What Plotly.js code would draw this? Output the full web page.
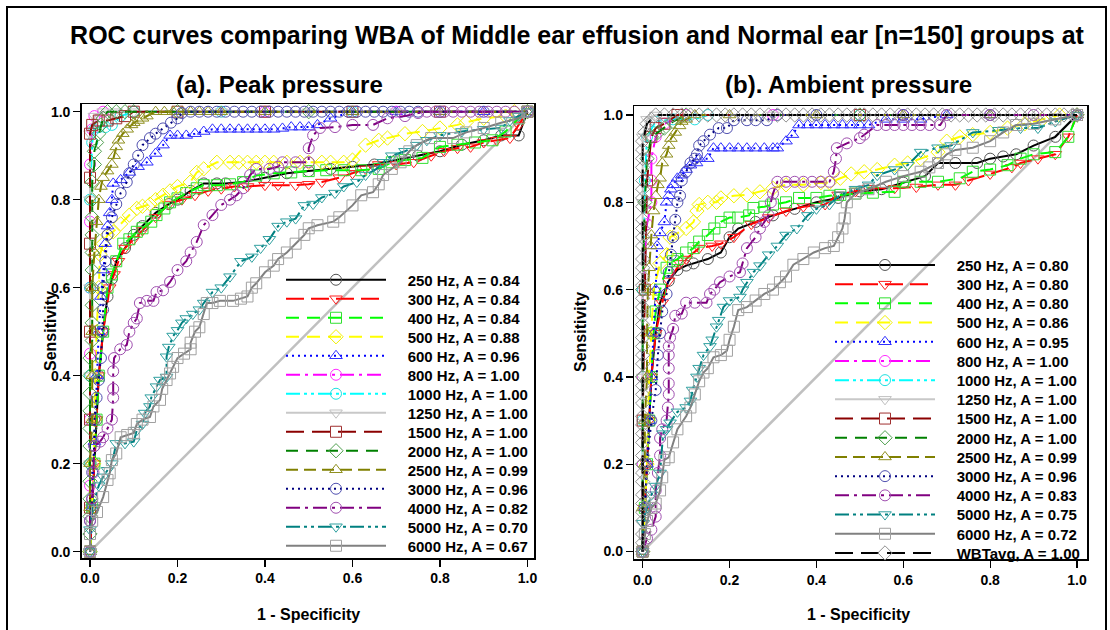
<!DOCTYPE html>
<html><head><meta charset="utf-8">
<script src="https://cdn.plot.ly/plotly-3.0.1.min.js"></script>
<style>html,body{margin:0;padding:0;background:#fff}#chart{width:1110px;height:630px}</style>
</head><body><div id="chart"></div>
<script>
// ---------- DATA ----------
const freqLabels = ['250 Hz','300 Hz','400 Hz','500 Hz','600 Hz','800 Hz','1000 Hz','1250 Hz','1500 Hz','2000 Hz','2500 Hz','3000 Hz','4000 Hz','5000 Hz','6000 Hz'];
const ambLabels = freqLabels.concat(['WBTavg']);
const peakAUC = ['0.84','0.84','0.84','0.88','0.96','1.00','1.00','1.00','1.00','1.00','0.99','0.96','0.82','0.70','0.67'];
const ambAUC  = ['0.80','0.80','0.80','0.86','0.95','1.00','1.00','1.00','1.00','1.00','0.99','0.96','0.83','0.75','0.72','1.00'];
const tickValues = [0,0.2,0.4,0.6,0.8,1.0];
const tickLabels = ['0.0','0.2','0.4','0.6','0.8','1.0'];
const diagonal = [0,1];

// (a) Peak pressure: [1-specificity, sensitivity]
const peak250 = [[0,0],[0.005,0.1],[0.01,0.2],[0.015,0.3],[0.02,0.4],[0.03,0.5],[0.04,0.58],[0.05,0.62],[0.06,0.66],[0.08,0.69],[0.1,0.72],[0.12,0.74],[0.15,0.77],[0.18,0.79],[0.2,0.8],[0.23,0.82],[0.26,0.837],[0.29,0.837],[0.31,0.837],[0.35,0.84],[0.4,0.85],[0.45,0.86],[0.5,0.865],[0.55,0.87],[0.6,0.875],[0.65,0.88],[0.7,0.89],[0.75,0.9],[0.8,0.91],[0.85,0.925],[0.9,0.935],[0.94,0.946],[0.98,0.946],[1,1]];
const peak300 = [[0,0],[0.005,0.1],[0.01,0.2],[0.015,0.3],[0.02,0.4],[0.03,0.5],[0.045,0.6],[0.055,0.63],[0.065,0.66],[0.08,0.69],[0.1,0.71],[0.12,0.73],[0.15,0.76],[0.18,0.79],[0.21,0.8],[0.24,0.81],[0.27,0.82],[0.3,0.825],[0.33,0.83],[0.36,0.83],[0.4,0.833],[0.43,0.833],[0.47,0.833],[0.5,0.835],[0.53,0.84],[0.57,0.85],[0.6,0.86],[0.63,0.87],[0.66,0.88],[0.7,0.88],[0.74,0.885],[0.78,0.9],[0.81,0.91],[0.84,0.917],[0.87,0.92],[0.9,0.93],[0.93,0.935],[0.96,0.94],[0.98,0.97],[1,1]];
const peak400 = [[0,0],[0.005,0.1],[0.01,0.2],[0.015,0.3],[0.02,0.4],[0.03,0.5],[0.04,0.6],[0.05,0.63],[0.06,0.66],[0.076,0.7],[0.09,0.71],[0.107,0.727],[0.12,0.735],[0.14,0.75],[0.152,0.765],[0.17,0.78],[0.183,0.794],[0.2,0.803],[0.22,0.815],[0.244,0.826],[0.26,0.833],[0.29,0.833],[0.32,0.835],[0.35,0.84],[0.38,0.855],[0.42,0.86],[0.46,0.862],[0.5,0.865],[0.54,0.867],[0.58,0.867],[0.62,0.867],[0.66,0.87],[0.69,0.885],[0.72,0.89],[0.76,0.895],[0.8,0.92],[0.84,0.925],[0.88,0.93],[0.92,0.935],[0.95,0.955],[0.98,0.985],[1,1]];
const peak500 = [[0,0],[0.005,0.1],[0.008,0.2],[0.01,0.3],[0.012,0.4],[0.015,0.5],[0.02,0.6],[0.023,0.675],[0.03,0.7],[0.04,0.72],[0.053,0.727],[0.07,0.745],[0.09,0.765],[0.107,0.78],[0.12,0.785],[0.137,0.79],[0.15,0.8],[0.167,0.81],[0.183,0.82],[0.2,0.83],[0.229,0.84],[0.244,0.862],[0.26,0.87],[0.29,0.885],[0.32,0.885],[0.34,0.885],[0.36,0.885],[0.38,0.885],[0.4,0.885],[0.42,0.885],[0.45,0.885],[0.48,0.885],[0.5,0.885],[0.53,0.885],[0.55,0.885],[0.58,0.885],[0.6,0.89],[0.63,0.924],[0.66,0.935],[0.68,0.94],[0.72,0.95],[0.76,0.955],[0.8,0.963],[0.84,0.97],[0.86,0.976],[0.9,0.985],[0.95,0.99],[0.97,1],[1,1]];
const peak600 = [[0,0],[0.005,0.1],[0.01,0.25],[0.015,0.4],[0.02,0.5],[0.025,0.58],[0.03,0.64],[0.035,0.7],[0.04,0.74],[0.045,0.77],[0.05,0.8],[0.053,0.837],[0.07,0.845],[0.09,0.862],[0.11,0.875],[0.13,0.885],[0.15,0.905],[0.167,0.924],[0.183,0.946],[0.2,0.946],[0.22,0.946],[0.24,0.95],[0.26,0.955],[0.28,0.96],[0.3,0.96],[0.32,0.96],[0.34,0.96],[0.36,0.96],[0.38,0.96],[0.4,0.96],[0.42,0.96],[0.44,0.962],[0.46,0.965],[0.48,0.965],[0.5,0.965],[0.52,0.97],[0.55,0.985],[0.6,1],[0.7,1],[0.8,1],[0.9,1],[1,1]];
const peak800 = [[0,0],[0,0.15],[0,0.3],[0,0.45],[0,0.6],[0,0.75],[0,0.88],[0.005,0.96],[0.01,0.99],[0.03,1],[0.1,1],[0.4,1],[0.7,1],[1,1]];
const peak1000 = [[0,0],[0,0.2],[0,0.4],[0,0.6],[0,0.8],[0.005,0.93],[0.01,0.96],[0.02,0.965],[0.035,0.965],[0.05,0.97],[0.07,0.99],[0.1,1],[0.3,1],[0.6,1],[1,1]];
const peak1250 = [[0,0],[0,0.2],[0,0.4],[0,0.6],[0,0.8],[0,0.95],[0.01,0.99],[0.03,1],[0.06,1],[0.1,1],[0.3,1],[0.5,1],[0.7,1],[1,1]];
const peak1500 = [[0,0],[0,0.1],[0,0.3],[0,0.5],[0,0.7],[0,0.85],[0,0.95],[0.005,0.97],[0.02,0.98],[0.04,0.98],[0.06,0.985],[0.08,0.99],[0.1,1],[0.2,1],[0.4,1],[0.6,1],[0.8,1],[1,1]];
const peak2000 = [[0,0],[0,0.04],[0,0.08],[0,0.12],[0,0.16],[0,0.2],[0,0.24],[0,0.28],[0,0.32],[0,0.36],[0,0.4],[0,0.44],[0.005,0.48],[0.005,0.52],[0.005,0.56],[0.005,0.6],[0.005,0.64],[0.005,0.68],[0.005,0.72],[0.005,0.76],[0.005,0.8],[0.005,0.84],[0.01,0.88],[0.01,0.91],[0.015,0.93],[0.02,0.95],[0.025,0.97],[0.03,0.985],[0.04,1],[0.06,1],[0.08,1],[0.1,1],[0.2,1],[0.5,1],[1,1]];
const peak2500 = [[0,0],[0,0.1],[0,0.2],[0.005,0.3],[0.005,0.4],[0.005,0.5],[0.005,0.6],[0.01,0.68],[0.015,0.75],[0.02,0.8],[0.025,0.83],[0.03,0.85],[0.04,0.865],[0.05,0.88],[0.055,0.9],[0.06,0.92],[0.065,0.935],[0.075,0.95],[0.085,0.96],[0.095,0.97],[0.1,0.975],[0.11,0.98],[0.12,0.985],[0.13,0.99],[0.15,1],[0.17,1],[0.19,1],[0.21,1],[0.23,1],[0.25,1],[0.27,1],[0.3,1],[0.4,1],[0.6,1],[0.8,1],[1,1]];
const peak3000 = [[0,0],[0,0.07],[0.005,0.12],[0.005,0.18],[0.01,0.24],[0.01,0.3],[0.015,0.35],[0.02,0.39],[0.025,0.44],[0.028,0.5],[0.03,0.55],[0.03,0.6],[0.035,0.66],[0.04,0.72],[0.05,0.76],[0.06,0.79],[0.07,0.815],[0.084,0.84],[0.09,0.86],[0.1,0.88],[0.11,0.9],[0.12,0.924],[0.137,0.94],[0.15,0.95],[0.167,0.962],[0.185,0.975],[0.2,0.985],[0.21,0.997],[0.23,1],[0.25,1],[0.27,1],[0.29,1],[0.31,1],[0.33,1],[0.35,1],[0.37,1],[0.39,1],[0.41,1],[0.43,1],[0.45,1],[0.47,1],[0.49,1],[0.51,1],[0.53,1],[0.55,1],[0.57,1],[0.59,1],[0.61,1],[0.63,1],[0.65,1],[0.67,1],[0.69,1],[0.71,1],[0.73,1],[0.75,1],[0.8,1],[0.9,1],[1,1]];
const peak4000 = [[0,0],[0,0.07],[0.005,0.12],[0.008,0.18],[0.01,0.24],[0.023,0.25],[0.03,0.26],[0.04,0.28],[0.05,0.3],[0.053,0.35],[0.053,0.37],[0.053,0.41],[0.055,0.44],[0.069,0.46],[0.084,0.47],[0.09,0.5],[0.1,0.52],[0.107,0.53],[0.114,0.565],[0.13,0.57],[0.145,0.57],[0.152,0.59],[0.167,0.594],[0.183,0.613],[0.2,0.64],[0.22,0.66],[0.23,0.68],[0.244,0.704],[0.26,0.742],[0.28,0.765],[0.3,0.788],[0.32,0.8],[0.335,0.81],[0.35,0.826],[0.366,0.856],[0.38,0.87],[0.41,0.87],[0.43,0.875],[0.44,0.885],[0.47,0.885],[0.5,0.885],[0.5,0.917],[0.51,0.946],[0.526,0.963],[0.56,0.965],[0.6,0.97],[0.647,0.97],[0.68,0.985],[0.72,0.99],[0.75,0.997],[0.77,1],[0.79,1],[0.81,1],[0.83,1],[0.85,1],[0.87,1],[0.89,1],[0.91,1],[0.93,1],[0.95,1],[0.97,1],[1,1]];
const peak5000 = [[0,0],[0,0.05],[0.005,0.1],[0.02,0.15],[0.03,0.17],[0.04,0.185],[0.05,0.2],[0.06,0.246],[0.08,0.246],[0.1,0.25],[0.107,0.276],[0.12,0.29],[0.125,0.315],[0.137,0.33],[0.14,0.35],[0.152,0.375],[0.16,0.39],[0.175,0.397],[0.175,0.443],[0.18,0.465],[0.19,0.49],[0.2,0.503],[0.21,0.52],[0.22,0.53],[0.235,0.54],[0.25,0.55],[0.26,0.565],[0.28,0.59],[0.3,0.6],[0.32,0.625],[0.345,0.66],[0.37,0.67],[0.39,0.69],[0.41,0.71],[0.43,0.74],[0.45,0.75],[0.47,0.757],[0.49,0.787],[0.51,0.79],[0.53,0.805],[0.56,0.815],[0.58,0.83],[0.61,0.84],[0.63,0.856],[0.655,0.87],[0.67,0.885],[0.69,0.9],[0.72,0.91],[0.747,0.924],[0.77,0.935],[0.8,0.946],[0.85,0.955],[0.9,0.96],[0.94,0.963],[0.96,0.98],[0.98,0.99],[1,1]];
const peak6000 = [[0,0],[0,0.04],[0.005,0.07],[0.016,0.09],[0.03,0.124],[0.04,0.163],[0.045,0.178],[0.05,0.208],[0.06,0.223],[0.07,0.26],[0.085,0.265],[0.1,0.27],[0.107,0.29],[0.12,0.3],[0.137,0.306],[0.145,0.33],[0.16,0.345],[0.165,0.37],[0.175,0.39],[0.183,0.405],[0.19,0.42],[0.2,0.44],[0.215,0.45],[0.23,0.46],[0.23,0.475],[0.24,0.5],[0.25,0.51],[0.26,0.54],[0.267,0.565],[0.28,0.565],[0.297,0.57],[0.327,0.57],[0.345,0.575],[0.36,0.58],[0.37,0.6],[0.38,0.61],[0.4,0.635],[0.42,0.65],[0.43,0.665],[0.45,0.68],[0.47,0.7],[0.49,0.72],[0.5,0.735],[0.52,0.742],[0.556,0.75],[0.57,0.76],[0.6,0.787],[0.62,0.81],[0.647,0.817],[0.66,0.835],[0.67,0.856],[0.69,0.87],[0.71,0.885],[0.73,0.91],[0.747,0.924],[0.78,0.94],[0.83,0.94],[0.86,0.953],[0.9,0.963],[0.94,0.975],[0.98,0.985],[1,1]];

// (b) Ambient pressure
const amb250 = [[0,0],[0.005,0.1],[0.01,0.2],[0.015,0.3],[0.02,0.4],[0.03,0.5],[0.04,0.57],[0.06,0.62],[0.08,0.645],[0.1,0.655],[0.117,0.66],[0.15,0.67],[0.18,0.685],[0.2,0.72],[0.22,0.74],[0.26,0.755],[0.3,0.77],[0.35,0.785],[0.4,0.8],[0.45,0.81],[0.5,0.825],[0.55,0.83],[0.6,0.845],[0.65,0.86],[0.68,0.89],[0.72,0.89],[0.77,0.89],[0.8,0.9],[0.83,0.905],[0.86,0.91],[0.9,0.93],[0.95,0.95],[1,1]];
const amb300 = [[0,0],[0.005,0.1],[0.01,0.2],[0.015,0.3],[0.02,0.4],[0.03,0.5],[0.045,0.57],[0.06,0.62],[0.086,0.66],[0.1,0.67],[0.13,0.695],[0.16,0.7],[0.18,0.705],[0.21,0.72],[0.25,0.75],[0.29,0.765],[0.33,0.78],[0.37,0.79],[0.42,0.795],[0.45,0.817],[0.49,0.825],[0.52,0.832],[0.58,0.832],[0.63,0.835],[0.68,0.84],[0.72,0.84],[0.75,0.85],[0.8,0.865],[0.85,0.88],[0.87,0.89],[0.91,0.9],[0.95,0.91],[0.98,0.95],[1,1]];
const amb400 = [[0,0],[0.005,0.1],[0.01,0.2],[0.015,0.3],[0.02,0.4],[0.025,0.5],[0.03,0.55],[0.04,0.6],[0.055,0.65],[0.07,0.665],[0.08,0.67],[0.1,0.685],[0.117,0.695],[0.13,0.71],[0.15,0.725],[0.165,0.74],[0.18,0.755],[0.2,0.765],[0.22,0.765],[0.245,0.77],[0.255,0.787],[0.28,0.79],[0.3,0.795],[0.33,0.8],[0.36,0.81],[0.4,0.81],[0.43,0.815],[0.455,0.817],[0.49,0.82],[0.53,0.822],[0.58,0.824],[0.6,0.847],[0.64,0.847],[0.68,0.847],[0.73,0.855],[0.76,0.87],[0.8,0.875],[0.84,0.885],[0.87,0.9],[0.9,0.91],[0.95,0.915],[0.98,0.95],[1,1]];
const amb500 = [[0,0],[0.005,0.1],[0.01,0.2],[0.012,0.3],[0.015,0.4],[0.02,0.5],[0.025,0.6],[0.04,0.66],[0.055,0.68],[0.063,0.72],[0.08,0.73],[0.1,0.74],[0.117,0.755],[0.125,0.78],[0.13,0.795],[0.15,0.8],[0.17,0.8],[0.18,0.81],[0.21,0.815],[0.24,0.817],[0.27,0.824],[0.3,0.832],[0.33,0.84],[0.37,0.84],[0.41,0.845],[0.43,0.845],[0.455,0.855],[0.48,0.865],[0.51,0.87],[0.54,0.875],[0.58,0.885],[0.61,0.89],[0.64,0.9],[0.68,0.915],[0.7,0.94],[0.73,0.95],[0.76,0.955],[0.8,0.96],[0.84,0.97],[0.88,0.98],[0.92,0.99],[0.96,1],[1,1]];
const amb600 = [[0,0],[0.005,0.1],[0.01,0.2],[0.015,0.3],[0.02,0.4],[0.025,0.5],[0.03,0.6],[0.033,0.7],[0.04,0.73],[0.05,0.755],[0.055,0.8],[0.06,0.815],[0.065,0.83],[0.07,0.84],[0.08,0.855],[0.09,0.862],[0.1,0.875],[0.11,0.885],[0.124,0.89],[0.13,0.9],[0.15,0.9],[0.163,0.924],[0.18,0.924],[0.2,0.924],[0.22,0.924],[0.24,0.924],[0.26,0.924],[0.28,0.924],[0.3,0.924],[0.31,0.924],[0.33,0.94],[0.345,0.955],[0.36,0.977],[0.38,0.977],[0.4,0.977],[0.42,0.977],[0.44,0.977],[0.46,0.977],[0.48,0.977],[0.5,0.977],[0.52,0.977],[0.56,0.99],[0.6,0.99],[0.64,0.99],[0.7,1],[0.8,1],[1,1]];
const amb800 = [[0,0],[0,0.2],[0,0.4],[0,0.6],[0.01,0.75],[0.02,0.8],[0.02,0.85],[0.02,0.9],[0.03,0.95],[0.05,0.98],[0.1,1],[0.3,1],[0.6,1],[1,1]];
const amb1000 = [[0,0],[0,0.3],[0,0.6],[0.005,0.85],[0.01,0.95],[0.03,0.985],[0.07,0.99],[0.12,0.99],[0.15,1],[0.5,1],[1,1]];
const amb1250 = [[0,0],[0,0.4],[0,0.8],[0,0.95],[0.01,0.99],[0.03,1],[0.3,1],[1,1]];
const amb1500 = [[0,0],[0,0.3],[0.005,0.6],[0.01,0.85],[0.02,0.95],[0.03,0.97],[0.05,0.98],[0.08,1],[0.5,1],[1,1]];
const amb2000 = [[0,0],[0,0.2],[0,0.4],[0,0.6],[0.005,0.8],[0.01,0.9],[0.02,0.95],[0.035,0.96],[0.05,0.97],[0.07,0.985],[0.1,1],[0.5,1],[1,1]];
const amb2500 = [[0,0],[0,0.1],[0.005,0.2],[0.005,0.3],[0.01,0.4],[0.01,0.5],[0.012,0.6],[0.015,0.65],[0.018,0.7],[0.02,0.725],[0.025,0.78],[0.03,0.815],[0.035,0.84],[0.04,0.855],[0.045,0.89],[0.055,0.91],[0.06,0.93],[0.065,0.946],[0.075,0.96],[0.085,0.975],[0.09,0.985],[0.1,0.99],[0.12,1],[0.2,1],[0.4,1],[0.6,1],[0.8,1],[1,1]];
const amb3000 = [[0,0],[0.005,0.1],[0.01,0.2],[0.02,0.3],[0.03,0.37],[0.035,0.45],[0.04,0.5],[0.045,0.55],[0.055,0.59],[0.06,0.64],[0.065,0.68],[0.07,0.72],[0.075,0.76],[0.08,0.8],[0.086,0.815],[0.09,0.85],[0.1,0.87],[0.11,0.89],[0.12,0.9],[0.125,0.91],[0.13,0.93],[0.14,0.94],[0.155,0.955],[0.175,0.97],[0.194,0.97],[0.21,0.988],[0.24,0.988],[0.26,0.988],[0.286,0.988],[0.31,1],[0.4,1],[0.6,1],[0.8,1],[1,1]];
const amb4000 = [[0,0],[0.01,0.03],[0.02,0.05],[0.03,0.08],[0.03,0.1],[0.03,0.14],[0.035,0.18],[0.04,0.22],[0.04,0.26],[0.045,0.28],[0.055,0.3],[0.058,0.33],[0.06,0.36],[0.06,0.385],[0.06,0.42],[0.06,0.45],[0.06,0.47],[0.063,0.49],[0.07,0.51],[0.075,0.54],[0.09,0.545],[0.1,0.57],[0.12,0.57],[0.147,0.57],[0.155,0.59],[0.165,0.6],[0.178,0.617],[0.2,0.63],[0.224,0.64],[0.23,0.66],[0.24,0.695],[0.26,0.72],[0.27,0.74],[0.28,0.755],[0.29,0.77],[0.295,0.8],[0.3,0.82],[0.31,0.847],[0.33,0.847],[0.35,0.847],[0.37,0.847],[0.39,0.847],[0.41,0.847],[0.43,0.847],[0.44,0.87],[0.445,0.9],[0.447,0.924],[0.47,0.935],[0.5,0.947],[0.51,0.955],[0.54,0.977],[0.56,0.977],[0.58,0.977],[0.6,0.977],[0.62,0.977],[0.64,0.977],[0.66,0.977],[0.685,0.977],[0.7,1],[0.8,1],[0.9,1],[1,1]];
const amb5000 = [[0,0],[0,0.065],[0.01,0.1],[0.02,0.13],[0.03,0.15],[0.04,0.18],[0.047,0.27],[0.055,0.28],[0.063,0.295],[0.08,0.32],[0.1,0.33],[0.11,0.345],[0.115,0.37],[0.125,0.4],[0.13,0.42],[0.14,0.45],[0.155,0.47],[0.16,0.485],[0.17,0.515],[0.175,0.53],[0.186,0.56],[0.2,0.575],[0.224,0.583],[0.23,0.6],[0.24,0.617],[0.255,0.64],[0.27,0.655],[0.29,0.68],[0.31,0.7],[0.33,0.725],[0.355,0.74],[0.38,0.77],[0.4,0.785],[0.43,0.795],[0.455,0.817],[0.49,0.83],[0.52,0.84],[0.54,0.862],[0.58,0.875],[0.61,0.885],[0.64,0.915],[0.68,0.925],[0.71,0.93],[0.76,0.96],[0.82,0.965],[0.87,0.97],[0.91,0.97],[0.95,0.985],[1,1]];
const amb6000 = [[0,0],[0.005,0.04],[0.01,0.07],[0.02,0.1],[0.03,0.11],[0.04,0.14],[0.045,0.17],[0.05,0.21],[0.06,0.216],[0.07,0.25],[0.08,0.28],[0.1,0.31],[0.11,0.33],[0.12,0.36],[0.13,0.39],[0.14,0.41],[0.15,0.42],[0.163,0.445],[0.18,0.45],[0.194,0.46],[0.2,0.485],[0.21,0.515],[0.22,0.553],[0.24,0.56],[0.26,0.575],[0.28,0.59],[0.3,0.6],[0.316,0.617],[0.33,0.63],[0.347,0.657],[0.37,0.67],[0.394,0.685],[0.42,0.695],[0.44,0.7],[0.45,0.72],[0.46,0.74],[0.465,0.763],[0.47,0.8],[0.49,0.82],[0.52,0.83],[0.56,0.847],[0.6,0.86],[0.64,0.87],[0.66,0.88],[0.68,0.89],[0.7,0.91],[0.72,0.92],[0.76,0.925],[0.8,0.94],[0.83,0.96],[0.86,0.977],[0.9,0.98],[0.95,0.99],[1,1]];
const ambWBT = [[0,0],[0,0.02],[0,0.04],[0,0.07],[0,0.09],[0,0.11],[0,0.13],[0,0.16],[0,0.18],[0,0.2],[0,0.22],[0,0.25],[0,0.27],[0,0.29],[0,0.31],[0,0.34],[0,0.36],[0,0.38],[0,0.4],[0,0.43],[0,0.45],[0,0.47],[0,0.49],[0,0.52],[0,0.54],[0,0.56],[0,0.58],[0,0.61],[0,0.63],[0,0.65],[0,0.67],[0,0.7],[0,0.72],[0,0.74],[0,0.76],[0,0.79],[0,0.81],[0,0.83],[0,0.85],[0,0.88],[0,0.9],[0,0.92],[0,0.94],[0.005,0.96],[0.01,0.98],[0.02,0.99],[0.03,1],[0.05,1],[0.07,1],[0.09,1],[0.11,1],[0.13,1],[0.15,1],[0.17,1],[0.19,1],[0.21,1],[0.23,1],[0.25,1],[0.27,1],[0.29,1],[0.31,1],[0.33,1],[0.35,1],[0.37,1],[0.39,1],[0.41,1],[0.43,1],[0.45,1],[0.47,1],[0.49,1],[0.51,1],[0.53,1],[0.55,1],[0.57,1],[0.59,1],[0.61,1],[0.63,1],[0.65,1],[0.67,1],[0.69,1],[0.71,1],[0.73,1],[0.75,1],[0.77,1],[0.79,1],[0.81,1],[0.83,1],[0.85,1],[0.87,1],[0.89,1],[0.91,1],[0.93,1],[0.95,1],[0.97,1],[0.99,1],[1,1]];

const peakCurves = [peak250,peak300,peak400,peak500,peak600,peak800,peak1000,peak1250,peak1500,peak2000,peak2500,peak3000,peak4000,peak5000,peak6000];
const ambCurves = [amb250,amb300,amb400,amb500,amb600,amb800,amb1000,amb1250,amb1500,amb2000,amb2500,amb3000,amb4000,amb5000,amb6000,ambWBT];

// ---------- STYLES ----------
const lineColors = ['#000000','#ff0000','#00ff00','#ffff00','#0000ff','#ff00ff','#00ffff','#c8c8c8','#8b0000','#008000','#808000','#000080','#800080','#008080','#808080','#000000'];
const markerColors = ['#555555','#ff2020','#30e030','#f0f000','#3030ff','#ff30ff','#20e0e0','#c0c0c0','#a03030','#50a050','#909020','#5050b0','#a050b0','#30a0a0','#a0a0a0','#909090'];
const dashes = ['solid','18px,7px','13px,8px','13px,8px','2px,4px','14px,5px,3px,5px','14px,4px,3px,4px,3px,4px','solid','18px,8px','12px,8px','12px,6px','2px,4px','14px,5px,3px,5px','14px,4px,3px,4px,3px,4px','solid','18px,8px'];
const symbols = ['circle-open','triangle-down-open','square-open','diamond-open','triangle-up-open','circle-open','circle-open','triangle-down-open','square-open','diamond-open','triangle-up-open','circle-open','circle-open','triangle-down-open','square-open','diamond-open'];

const FONT = 'Arial, "Liberation Sans", sans-serif';
const W = 1110, H = 630;
const traces = [];
const bold = (size) => ({family: FONT, size: size, weight: 'bold', color: '#000'});
const layout = {
  width: W, height: H, margin: {l:0,r:0,t:0,b:0},
  paper_bgcolor: '#fff', plot_bgcolor: '#fff',
  font: {family: FONT, color: '#000'},
  title: {text: 'ROC curves comparing WBA of Middle ear effusion and Normal ear [n=150] groups at',
          x: 577/W, xanchor: 'center', y: 1-35/H, yanchor: 'middle', font: bold(25)},
  annotations: [
    {text:'(a). Peak pressure', xref:'paper', yref:'paper', x:279/W, y:1-85/H, xanchor:'center', yanchor:'middle', showarrow:false, font:bold(24)},
    {text:'(b). Ambient pressure', xref:'paper', yref:'paper', x:848/W, y:1-85/H, xanchor:'center', yanchor:'middle', showarrow:false, font:bold(24)},
    {text:'Sensitivity', xref:'paper', yref:'paper', x:50/W, y:1-331/H, xanchor:'center', yanchor:'middle', textangle:-90, showarrow:false, font:bold(16)},
    {text:'Sensitivity', xref:'paper', yref:'paper', x:580/W, y:1-332/H, xanchor:'center', yanchor:'middle', textangle:-90, showarrow:false, font:bold(16)},
    {text:'1 - Specificity', xref:'paper', yref:'paper', x:308/W, y:1-614/H, xanchor:'center', yanchor:'middle', showarrow:false, font:bold(16)},
    {text:'1 - Specificity', xref:'paper', yref:'paper', x:858/W, y:1-614/H, xanchor:'center', yanchor:'middle', showarrow:false, font:bold(16)}
  ],
  shapes: [{type:'rect', xref:'paper', yref:'paper', x0:7/W, x1:1106/W, y0:1-7/H, y1:-0.05, line:{color:'#000', width:2}}],
  showlegend: true
};
function axis(domain, range){
  return {domain, range, showline:true, mirror:true, linecolor:'#000', linewidth:1.5,
    ticks:'outside', ticklen:7, tickwidth:1.2, tickcolor:'#000', tickvals:tickValues, ticktext:tickLabels,
    tickfont:bold(14), showgrid:false, zeroline:false, fixedrange:true};
}
layout.xaxis  = Object.assign(axis([81.7/W, 534/W], [-0.019, 1.015]), {anchor:'y'});
layout.yaxis  = Object.assign(axis([1-558/H, 1-104/H], [-0.0145, 1.0175]), {anchor:'x'});
layout.xaxis2 = Object.assign(axis([634.3/W, 1087/W], [-0.0193, 1.023]), {anchor:'y2'});
layout.yaxis2 = Object.assign(axis([1-559.3/H, 1-106/H], [-0.0178, 1.0206]), {anchor:'x2'});

// diagonal reference lines
[['x','y'],['x2','y2']].forEach(([xa,ya]) => traces.push({x:diagonal, y:diagonal, xaxis:xa, yaxis:ya, mode:'lines',
  line:{color:'#c0c0c0', width:2.5}, showlegend:false, hoverinfo:'skip'}));

let legIdx = 0;
function addPanel(curves, labels, aucs, xa, ya, legX, row0, rowStep){
  curves.forEach((pts, i) => {
    const lid = legIdx === 0 ? 'legend' : 'legend' + (legIdx+1);
    legIdx++;
    traces.push({
      x: pts.map(p=>p[0]), y: pts.map(p=>p[1]), xaxis:xa, yaxis:ya, mode:'lines+markers',
      name: '\u00a0\u00a0\u00a0\u00a0' + labels[i] + ', A = ' + aucs[i],
      line:{color:lineColors[i], width:2, dash:dashes[i]},
      marker:{symbol:symbols[i], size:11, color:markerColors[i], line:{width:1, color:markerColors[i]}},
      legend: lid, hoverinfo:'skip'
    });
    layout[lid] = {x:legX/W, xanchor:'left', y:1-(row0+rowStep*i)/H, yanchor:'middle',
      bgcolor:'rgba(0,0,0,0)', borderwidth:0, itemwidth:100, itemclick:false, itemdoubleclick:false,
      font:bold(15)};
  });
}
addPanel(peakCurves, freqLabels, peakAUC, 'x', 'y', 281, 280, 19.0);
addPanel(ambCurves, ambLabels, ambAUC, 'x2', 'y2', 830, 265.2, 19.2);

Plotly.newPlot('chart', traces, layout, {staticPlot:true, displayModeBar:false});
</script>
</body></html>
